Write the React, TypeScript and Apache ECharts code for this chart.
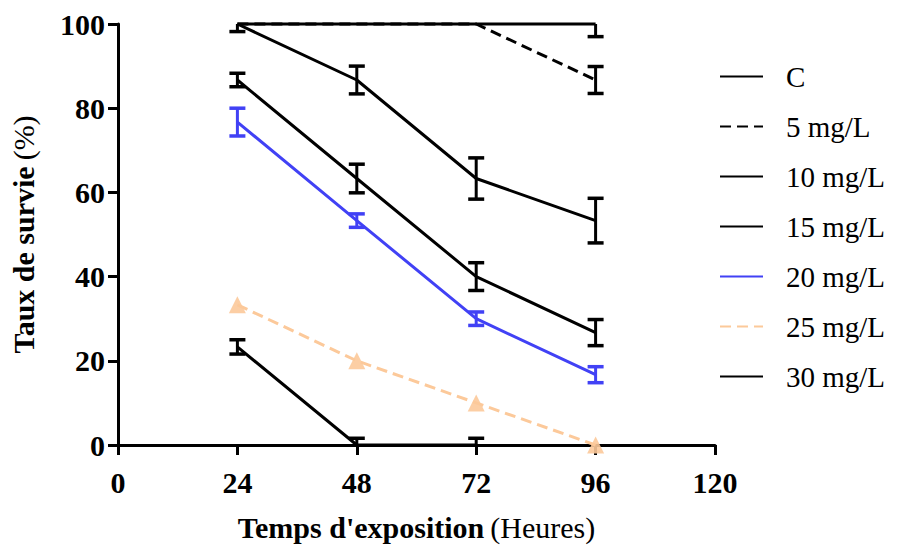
import React, { useEffect, useRef } from "react";
import * as echarts from "echarts";

const hours = [24, 48, 72, 96];
const xTicks = [0, 24, 48, 72, 96, 120];
const yTicks = [0, 20, 40, 60, 80, 100];
const seriesNames = ["C", "5 mg/L", "10 mg/L", "15 mg/L", "20 mg/L", "25 mg/L", "30 mg/L"];
const seriesColors = ["#000000", "#000000", "#000000", "#000000", "#4141f5", "#fcc99a", "#000000"];
const seriesDash = ["solid", "dashed", "solid", "solid", "solid", "dashed", "solid"];

const valC = [100, 100, 100, 100];
const errC = [0, 0, 0, 3];
const val5 = [100, 100, 100, 86.7];
const err5 = [0, 0, 0, 3.2];
const val10 = [100, 86.7, 63.3, 53.3];
const err10 = [1.8, 3.3, 4.9, 5.3];
const val15 = [86.7, 63.3, 40, 26.7];
const err15 = [1.6, 3.4, 3.3, 3.1];
const val20 = [76.7, 53.3, 30, 16.7];
const err20 = [3.3, 1.6, 1.6, 1.9];
const val25 = [33.3, 20, 10, 0];
const err25 = [0, 0, 0, 0];
const val30 = [23.3, 0, 0];
const err30 = [1.7, 1.6, 1.6];

const allValues = [valC, val5, val10, val15, val20, val25, val30];
const allErrors = [errC, err5, err10, err15, err20, err25, err30];

const FONT = "Liberation Serif";

export default function App() {
  const ref = useRef<HTMLDivElement>(null);
  useEffect(() => {
    document.body.style.margin = "0";
    if (!ref.current) return;
    const chart = echarts.init(ref.current, null, { renderer: "svg" });

    const lineSeries: any[] = seriesNames.map((name, si) => ({
      name,
      type: "line",
      data: allValues[si].map((v, i) => [hours[i], v]),
      symbol: "none",
      clip: false,
      lineStyle: { width: 3, color: seriesColors[si], type: seriesDash[si] === "dashed" ? [11, 6] : "solid" },
      itemStyle: { color: seriesColors[si] },
      z: si === 1 ? 2 : 3,
    }));

    const triSeries = {
      name: "25 mg/L markers",
      type: "scatter",
      data: val25.map((v, i) => [hours[i], v]),
      symbol: "triangle",
      symbolSize: 17,
      clip: false,
      itemStyle: { color: "#fcc99a", opacity: 0.9 },
      z: 4,
    };

    const errData: any[] = [];
    allValues.forEach((vals, si) => {
      vals.forEach((v, i) => {
        const e = allErrors[si][i];
        if (e > 0) errData.push([hours[i], v - e, v + e, si]);
      });
    });

    const errSeries = {
      type: "custom",
      name: "errors",
      data: errData,
      z: 5,
      clip: false,
      renderItem: (params: any, api: any) => {
        const x = api.value(0);
        const lo = api.value(1);
        const hi = api.value(2);
        const ci = api.value(3);
        const loC = Math.max(lo, 0);
        const hiC = Math.min(hi, 100);
        const pT = api.coord([x, hiC]);
        const pB = api.coord([x, loC]);
        const half = 8;
        const color = seriesColors[ci];
        const children: any[] = [
          { type: "line", shape: { x1: pT[0], y1: pT[1], x2: pB[0], y2: pB[1] }, style: { stroke: color, lineWidth: 3 } },
        ];
        if (hi <= 100)
          children.push({ type: "line", shape: { x1: pT[0] - half, y1: pT[1], x2: pT[0] + half, y2: pT[1] }, style: { stroke: color, lineWidth: 3.5 } });
        if (lo >= 0)
          children.push({ type: "line", shape: { x1: pB[0] - half, y1: pB[1], x2: pB[0] + half, y2: pB[1] }, style: { stroke: color, lineWidth: 3.5 } });
        return { type: "group", children };
      },
    };

    chart.setOption({
      animation: false,
      backgroundColor: "#ffffff",
      textStyle: { fontFamily: FONT },
      grid: { left: 118, right: 182, top: 24, bottom: 102, containLabel: false, outerBoundsMode: "none" },
      legend: {
        data: seriesNames,
        orient: "vertical",
        left: 719,
        top: 62,
        padding: 0,
        itemWidth: 43,
        itemHeight: 14,
        itemGap: 21,
        itemStyle: { opacity: 0 },
        formatter: (name: string) => "{t|" + name + "}",
        textStyle: {
          fontFamily: FONT,
          fontSize: 29,
          color: "#000",
          rich: {
            t: { fontFamily: FONT, fontSize: 29, color: "#000", lineHeight: 30, padding: [0, 0, 0, 18] },
          },
        },
      },
      xAxis: {
        type: "value",
        min: xTicks[0],
        max: xTicks[xTicks.length - 1],
        interval: 24,
        name: "{b|Temps d'exposition}  {n|(Heures)}",
        nameLocation: "middle",
        nameGap: 67,
        nameTextStyle: {
          rich: {
            b: { fontFamily: FONT, fontSize: 30, fontWeight: "bold", color: "#000" },
            n: { fontFamily: FONT, fontSize: 30, fontWeight: "normal", color: "#000" },
          },
        },
        axisLine: { lineStyle: { color: "#000", width: 3 } },
        axisTick: { length: 10, lineStyle: { color: "#000", width: 3 } },
        splitLine: { show: false },
        axisLabel: { fontFamily: FONT, fontSize: 30, fontWeight: "bold", color: "#000", margin: 22 },
      },
      yAxis: {
        type: "value",
        min: yTicks[0],
        max: yTicks[yTicks.length - 1],
        interval: 20,
        name: "{b|Taux de survie}  {n|(%)}",
        nameLocation: "middle",
        nameGap: 80,
        nameRotate: 90,
        nameTextStyle: {
          rich: {
            b: { fontFamily: FONT, fontSize: 30, fontWeight: "bold", color: "#000" },
            n: { fontFamily: FONT, fontSize: 30, fontWeight: "normal", color: "#000" },
          },
        },
        axisLine: { lineStyle: { color: "#000", width: 3 } },
        axisTick: { length: 10, lineStyle: { color: "#000", width: 3 } },
        splitLine: { show: false },
        axisLabel: { fontFamily: FONT, fontSize: 30, fontWeight: "bold", color: "#000", margin: 13 },
      },
      series: [...lineSeries, triSeries, errSeries],
    });
    return () => chart.dispose();
  }, []);
  return <div ref={ref} style={{ width: 897, height: 547 }} />;
}
